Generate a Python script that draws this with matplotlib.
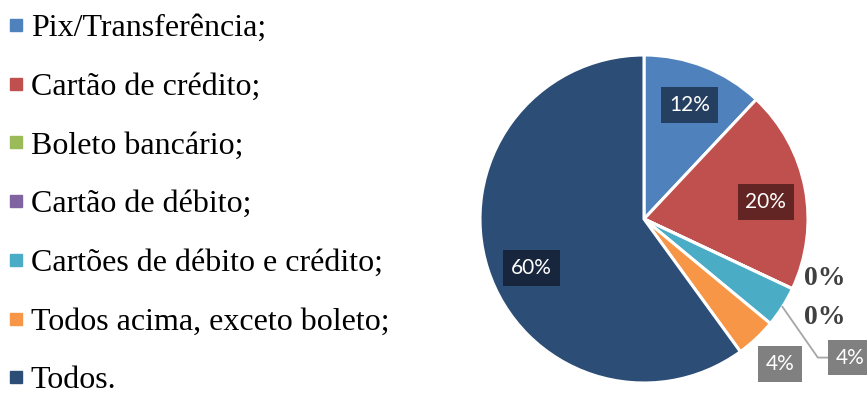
import numpy as np
import matplotlib
matplotlib.use("Agg")
import matplotlib.pyplot as plt
from matplotlib.lines import Line2D

# Formas de pagamento (percentual das respostas)
categories = ["Pix/Transferência;", "Cartão de crédito;", "Boleto bancário;",
              "Cartão de débito;", "Cartões de débito e crédito;",
              "Todos acima, exceto boleto;", "Todos."]
values = [12, 20, 0, 0, 4, 4, 60]
colors = ["#4F81BD", "#C0504D", "#9BBB59", "#8064A2", "#4BACC6", "#F79646", "#2C4D75"]
label_boxes = ["#243F60", "#632523", None, None, "#808080", "#808080", "#17263D"]

fig = plt.figure(figsize=(8.67, 3.97), dpi=100)
W, H = 867, 397

# pie: center (644, 219) px from top-left, radius 164 px
R = 164
cx, cy = 644, H - 219
lim = 1.4
side = 2 * lim * R
ax = fig.add_axes([(cx - side / 2) / W, (cy - side / 2) / H, side / W, side / H])

wedges, _ = ax.pie(values, colors=colors, startangle=90, counterclock=False,
                   radius=1.0, wedgeprops=dict(edgecolor="white", linewidth=2.2))
# pie() resets the limits, so set them afterwards
ax.set_xlim(-lim, lim)
ax.set_ylim(-lim, lim)
ax.set_aspect("equal")
ax.axis("off")

# small angular nudges (degrees) for the inside labels
nudge = [0, -3, 0, 0, 0, 0, 5.5]

total = float(sum(values))
pct_font = dict(family="Lato", fontsize=15, color="white")
start = 90.0
zero_rows = [-0.36, -0.60]
zi = 0
for i, v in enumerate(values):
    sweep = v / total * 360
    mid_deg = start - sweep / 2
    start -= sweep
    txt = f"{v}%"
    if v == 0:
        ax.text(1.10, zero_rows[zi], txt, ha="center", va="center",
                family="Liberation Serif", fontweight="bold", fontsize=20,
                color="#404040")
        zi += 1
        continue
    mid = np.deg2rad(mid_deg + nudge[i])
    if v >= 10:
        x, y = 0.75 * np.cos(mid), 0.75 * np.sin(mid)
    elif i == 5:
        x, y = 1.21 * np.cos(mid), 1.21 * np.sin(mid)
    else:
        # label pulled out with a leader line
        ex, ey = np.cos(mid), np.sin(mid)
        x, y = 1.26, -0.845
        ax.plot([ex, 1.06, 1.13], [ey, -0.845, -0.845], color="#A6A6A6", lw=1.3)
    ax.text(x, y, txt, ha="center", va="center", **pct_font,
            bbox=dict(boxstyle="square,pad=0.38", fc=label_boxes[i], ec="none"))

handles = [Line2D([0], [0], marker="s", linestyle="none", markersize=8,
                  markerfacecolor=c, markeredgecolor=c) for c in colors]
fig.legend(handles, categories, loc="upper left", bbox_to_anchor=(-0.005, 0.998),
           frameon=False, prop=dict(family="Liberation Serif", size=23),
           handlelength=0.5, handletextpad=0.2, labelspacing=0.92,
           borderaxespad=0.2, borderpad=0.2)

fig.savefig("out.png", dpi=100)
